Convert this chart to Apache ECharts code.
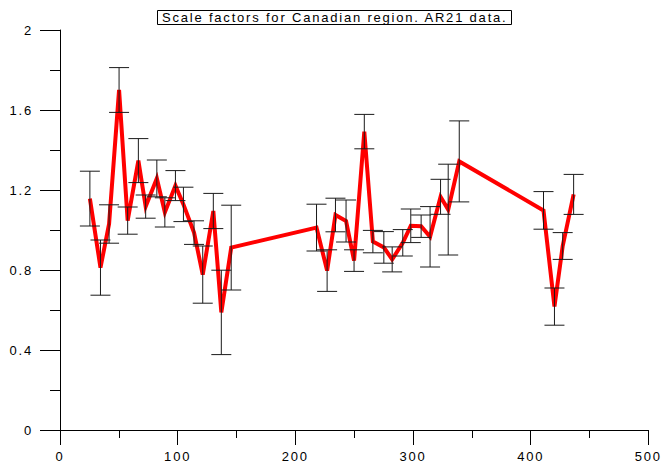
<!DOCTYPE html>
<html>
<head>
<meta charset="utf-8">
<script src="https://cdn.jsdelivr.net/npm/echarts@6/dist/echarts.min.js"></script>
<style>
  html, body { margin: 0; padding: 0; background: #fff; }
  #chart { width: 664px; height: 465px; }
  /* spaced-out lettering used by all chart texts */
  #chart svg text { letter-spacing: 1.8px; }
</style>
</head>
<body>
<div id="chart"></div>
<script>
// Scale factors with their uncertainties (half-width of the error bar)
const dayX = [25.4, 34.4, 41.7, 50.2, 57.5, 66.6, 72.8, 82.3, 89.1, 98.1, 104.9, 113.9,
              121.3, 130.3, 137.1, 145.5, 218.0, 227.0, 234.1, 243.1, 249.9, 258.6,
              265.9, 275.2, 282.3, 291.3, 298.1, 306.9, 314.5, 323.4, 329.9, 339.3,
              410.9, 420.2, 427.2, 436.5];
const scaleFactor = [1.157, 0.812, 1.030, 1.700, 1.047, 1.347, 1.117, 1.258, 1.088, 1.222, 1.128, 0.987,
                     0.777, 1.095, 0.588, 0.912, 1.012, 0.797, 1.075, 1.045, 0.847, 1.492,
                     0.942, 0.913, 0.853, 0.936, 1.021, 1.019, 0.966, 1.166, 1.102, 1.343,
                     1.098, 0.617, 0.920, 1.178];
const scaleError = [0.137, 0.138, 0.096, 0.112, 0.068, 0.110, 0.058, 0.092, 0.073, 0.075, 0.086, 0.059,
                    0.143, 0.088, 0.211, 0.212, 0.117, 0.104, 0.084, 0.105, 0.054, 0.086,
                    0.056, 0.079, 0.0625, 0.066, 0.084, 0.056, 0.151, 0.0875, 0.227, 0.2025,
                    0.094, 0.093, 0.067, 0.100];
const xTicks = [0, 100, 200, 300, 400, 500];
const yTicks = [0, 0.4, 0.8, 1.2, 1.6, 2];
const titleText = 'Scale factors for Canadian region. AR21 data.';

const SPACING = 1.8;
// text measuring that knows about the extra letter spacing
const measureCanvas = document.createElement('canvas').getContext('2d');
echarts.setPlatformAPI({
  measureText(text, font) {
    measureCanvas.font = font || '12px sans-serif';
    const m = measureCanvas.measureText(text);
    return { width: m.width + SPACING * Math.max(0, String(text).length - 1) };
  }
});

const FONT = 'Liberation Sans, Arial, sans-serif';
const linePoints = dayX.map((x, i) => [x, scaleFactor[i]]);
const barPoints = dayX.map((x, i) => [x, scaleFactor[i] - scaleError[i], scaleFactor[i] + scaleError[i]]);

const chart = echarts.init(document.getElementById('chart'), null, { renderer: 'svg' });
chart.setOption({
  backgroundColor: '#fff',
  animation: false,
  title: {
    text: titleText,
    left: 157,
    top: 10,
    padding: [1, 5, 1, 5],
    borderColor: '#000',
    borderWidth: 1,
    textStyle: { fontFamily: FONT, fontSize: 13, fontWeight: 'normal', color: '#000', lineHeight: 13 }
  },
  grid: { left: 60, right: 13, top: 30, bottom: 35, containLabel: false },
  xAxis: {
    type: 'value',
    min: xTicks[0],
    max: xTicks[xTicks.length - 1],
    interval: xTicks[1] - xTicks[0],
    axisLine: { onZero: false, lineStyle: { color: '#000', width: 1 } },
    axisTick: { show: true, length: 15, lineStyle: { color: '#000' } },
    minorTick: { show: true, splitNumber: 2, length: 8, lineStyle: { color: '#000' } },
    splitLine: { show: false },
    axisLabel: { fontFamily: FONT, fontSize: 13, color: '#000', margin: 20 }
  },
  yAxis: {
    type: 'value',
    min: yTicks[0],
    max: yTicks[yTicks.length - 1],
    interval: yTicks[1] - yTicks[0],
    axisLine: { onZero: false, lineStyle: { color: '#000', width: 1 } },
    axisTick: { show: true, length: 20, lineStyle: { color: '#000' } },
    minorTick: { show: true, splitNumber: 2, length: 10, lineStyle: { color: '#000' } },
    splitLine: { show: false },
    axisLabel: { fontFamily: FONT, fontSize: 13, color: '#000', margin: 27 }
  },
  series: [
    {
      type: 'line',
      data: linePoints,
      symbol: 'none',
      z: 2,
      lineStyle: { color: '#ff0000', width: 4, join: 'miter' }
    },
    {
      type: 'custom',
      data: barPoints,
      z: 3,
      renderItem(params, api) {
        const x = api.value(0);
        const lo = api.coord([x, api.value(1)]);
        const hi = api.coord([x, api.value(2)]);
        const half = 10;
        const style = { stroke: '#1a1a1a', lineWidth: 1 };
        return {
          type: 'group',
          children: [
            { type: 'line', shape: { x1: lo[0], y1: lo[1], x2: hi[0], y2: hi[1] }, style },
            { type: 'line', shape: { x1: lo[0] - half, y1: lo[1], x2: lo[0] + half, y2: lo[1] }, style },
            { type: 'line', shape: { x1: hi[0] - half, y1: hi[1], x2: hi[0] + half, y2: hi[1] }, style }
          ]
        };
      }
    }
  ]
});
</script>
</body>
</html>
